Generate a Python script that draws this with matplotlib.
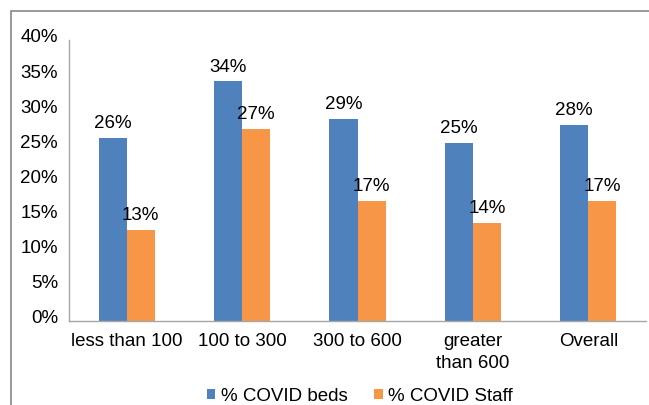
import numpy as np
import matplotlib.pyplot as plt
import matplotlib.transforms as mtransforms
from matplotlib.patches import Rectangle

plt.rcParams['font.family'] = ['Liberation Sans', 'DejaVu Sans']

categories = ['less than 100', '100 to 300', '300 to 600', 'greater\nthan 600', 'Overall']
beds = [26.0, 34.1, 28.7, 25.4, 27.9]
staff = [13.0, 27.3, 17.1, 14.0, 17.1]
series_names = ['% COVID beds', '% COVID Staff']
blue = '#4F81BD'
orange = '#F79646'
axis_gray = '#A6A6A6'

fs = 13.5

fig = plt.figure(figsize=(6.49, 4.06), dpi=100)
W, H = 649, 406
ax = fig.add_axes([69 / W, (H - 322) / H, 577 / W, 281 / H])

x = np.arange(len(categories))
w = 0.243
b1 = ax.bar(x - w / 2, beds, w, color=blue, label=series_names[0])
b2 = ax.bar(x + w / 2, staff, w, color=orange, label=series_names[1])

for bars in (b1, b2):
    for rect in bars:
        v = rect.get_height()
        ax.annotate('%.0f%%' % v, (rect.get_x() + rect.get_width() / 2, v),
                    xytext=(0, 5), textcoords='offset points',
                    ha='center', va='bottom', fontsize=fs)

ax.set_xlim(-0.5, len(categories) - 0.5)
ax.set_ylim(0, 40)
ax.set_yticks(np.arange(0, 41, 5))
ax.set_yticklabels(['%d%%' % t for t in range(0, 41, 5)])
ax.set_xticks(x)
ax.set_xticklabels(categories, linespacing=1.35)
ax.tick_params(axis='both', length=0, labelsize=fs)
ax.tick_params(axis='y', pad=8)
ax.tick_params(axis='x', pad=8)

off = mtransforms.ScaledTranslation(0, 5 / 100, fig.dpi_scale_trans)
for lbl in ax.get_yticklabels():
    lbl.set_transform(lbl.get_transform() + off)

for s in ['top', 'right']:
    ax.spines[s].set_visible(False)
for s in ['left', 'bottom']:
    ax.spines[s].set_color(axis_gray)
    ax.spines[s].set_linewidth(1.0)

fig.legend(loc='center', bbox_to_anchor=(360 / W, 1 - 397 / H), ncol=2,
           frameon=False, fontsize=fs, handlelength=0.45, handleheight=0.45,
           handletextpad=0.3, columnspacing=1.4)

fig.patches.append(Rectangle((11 / W, -0.1), 1.0, (H - 12) / H + 0.1,
                             transform=fig.transFigure, fill=False,
                             edgecolor='#878787', linewidth=1.2))

fig.savefig('out.png', dpi=100)
